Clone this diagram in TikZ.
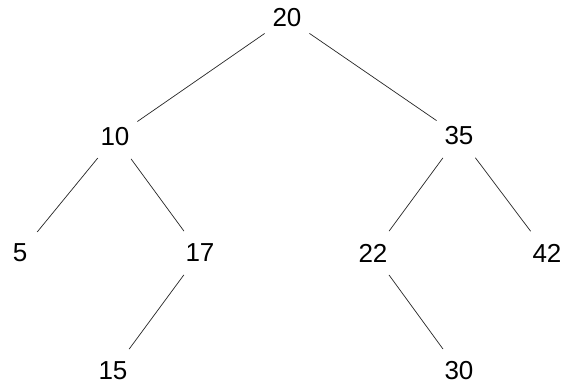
\documentclass[tikz,border=0pt]{standalone}
\usepackage{fontspec}
\setmainfont{Liberation Sans}
\begin{document}
\begin{tikzpicture}[x=1pt,y=-1pt,
  key/.style={circle,inner sep=0pt,minimum size=54pt,font=\fontsize{26}{30}\selectfont},
  edge/.style={line width=0.7pt,draw=black!85}]
\useasboundingbox[fill=white] (0,0) rectangle (563,385);
\node[key] (n20) at (287,18) {20};
\node[key] (n10) at (115,137) {10};
\node[key] (n35) at (459,136) {35};
\node[key] (n5) at (20,253) {5};
\node[key] (n17) at (200,253) {17};
\node[key] (n22) at (373,253) {22};
\node[key] (n42) at (547,253) {42};
\node[key] (n15) at (113,371) {15};
\node[key] (n30) at (459,371) {30};
\draw[edge] (n20) -- (n10);
\draw[edge] (n20) -- (n35);
\draw[edge] (n10) -- (n5);
\draw[edge] (n10) -- (n17);
\draw[edge] (n35) -- (n22);
\draw[edge] (n35) -- (n42);
\draw[edge] (n17) -- (n15);
\draw[edge] (n22) -- (n30);
\end{tikzpicture}
\end{document}
